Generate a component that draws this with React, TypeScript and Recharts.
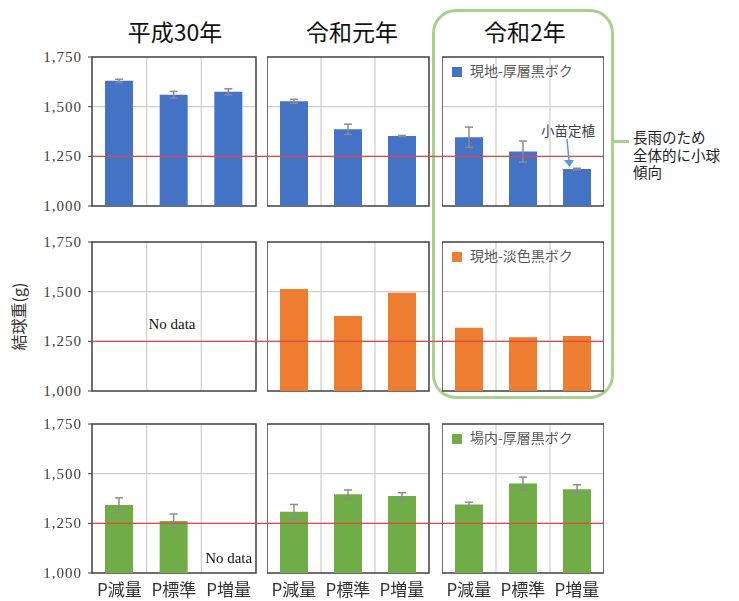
import React from 'react';
import {
  BarChart, Bar, XAxis, YAxis, CartesianGrid, ReferenceLine, ReferenceArea,
  ErrorBar, Legend, LabelList,
} from 'recharts';

const treatments = ['P減量', 'P標準', 'P増量'];
const years = ['平成30年', '令和元年', '令和2年'];
const yTicks = [1000, 1250, 1500, 1750];
const gridValues = [1250, 1500];
const baseline = 1250;

// 現地-厚層黒ボク
const thickH30 = [1630, 1560, 1575];
const thickH30Err = [8, 17, 15];
const thickR1 = [1527, 1386, 1352];
const thickR1Err = [10, 26, 3];
const thickR2 = [1346, 1274, 1186];
const thickR2Err = [51, 53, 4];
const thickR2Notes = ['', '', '小苗定植'];

// 現地-淡色黒ボク (H30 no data)
const lightH30 = [null, null, null];
const lightR1 = [1513, 1378, 1495];
const lightR2 = [1318, 1271, 1277];

// 場内-厚層黒ボク (H30 P増量 no data)
const fieldH30 = [1342, 1262, null];
const fieldH30Err = [36, 35, null];
const fieldR1 = [1308, 1396, 1387];
const fieldR1Err = [37, 22, 17];
const fieldR2 = [1345, 1450, 1422];
const fieldR2Err = [11, 33, 22];

const series = [
  { name: '現地-厚層黒ボク', color: '#4472c4', values: [thickH30, thickR1, thickR2], errs: [thickH30Err, thickR1Err, thickR2Err], notes: [null, null, thickR2Notes] },
  { name: '現地-淡色黒ボク', color: '#ed7d31', values: [lightH30, lightR1, lightR2], errs: [null, null, null], notes: [null, null, null] },
  { name: '場内-厚層黒ボク', color: '#70ad47', values: [fieldH30, fieldR1, fieldR2], errs: [fieldH30Err, fieldR1Err, fieldR2Err], notes: [null, null, null] },
];

const CJK = '"Noto Sans CJK JP", "Noto Sans", sans-serif';
const SERIF = '"Liberation Serif", "DejaVu Serif", serif';

const colLeft = [92, 267, 442];
const colWidth = [164, 162, 162];
const gapRight = [11, 13, 0];
const rowTop = [57, 242, 424];
const plotH = 149;

const fmt = (v: number) => v.toLocaleString('en-US');

const thirds = ({ offset }: any) => [
  offset.left + offset.width / 3,
  offset.left + (offset.width * 2) / 3,
];

const YTick = ({ x, y, payload }: any) => (
  <text x={x} y={y} dy={5} textAnchor="end"
    style={{ fontFamily: SERIF, fontSize: 15, fill: '#404040', letterSpacing: 1 }}>
    {fmt(payload.value)}
  </text>
);

const renderNote = (props: any) => {
  const { x, y, width, value } = props;
  if (!value) return null;
  const cx = x + width / 2 - 9;
  return (
    <g>
      <text x={cx} y={y - 33} textAnchor="middle" fontSize={13.5} fill="#404040" fontFamily={CJK}>{value}</text>
      <line x1={cx - 1} y1={y - 30} x2={cx + 1} y2={y - 8} stroke="#5b9bd5" strokeWidth={1.5} />
      <path d={`M${cx - 4},${y - 9} L${cx + 6},${y - 9} L${cx + 1.5},${y - 2} Z`} fill="#5b9bd5" />
    </g>
  );
};

const noDataStyle = { fontSize: 15, fill: '#111', fontFamily: SERIF };

function Panel({ r, c }: { r: number; c: number }) {
  const s = series[r];
  const errs = s.errs[c];
  const notes = s.notes[c];
  const data = treatments.map((t, i) => ({
    name: t,
    value: s.values[c][i],
    err: errs ? errs[i] : null,
    note: notes ? notes[i] : '',
  }));
  const first = c === 0;
  const last = r === 2;
  const yw = first ? 92 : 0;
  const left = first ? 0 : colLeft[c];
  const ext = gapRight[c];
  const width = yw + colWidth[c] + ext;
  const height = 10 + plotH + (last ? 30 : 10);
  const noData = s.values[c].every((v) => v === null);

  return (
    <div style={{ position: 'absolute', left, top: rowTop[r] - 10 }}>
      <BarChart width={width} height={height} data={data}
        margin={{ top: 10, right: ext, bottom: last ? 0 : 10, left: 0 }}>
        <CartesianGrid stroke="#cdcdcd" strokeWidth={1.2} horizontalValues={gridValues}
          verticalCoordinatesGenerator={thirds} />
        <XAxis dataKey="name" hide={!last} height={30} axisLine={false} tickLine={false}
          tickSize={0} tickMargin={11} interval={0}
          tick={{ fontSize: 17, fill: '#333', fontFamily: CJK }} />
        <YAxis domain={[1000, 1750]} ticks={yTicks} hide={!first} width={92} allowDataOverflow
          axisLine={false} tickSize={4} tickMargin={6}
          tickLine={{ stroke: '#404040' }} tick={<YTick />}
          label={first && r === 1 ? {
            value: '結球重(g)', angle: -90, position: 'insideLeft', offset: 19,
            style: { textAnchor: 'middle', fontSize: 16, fill: '#333', fontFamily: CJK },
          } : undefined} />
        <ReferenceArea y1={1000} y2={1750} fill="none" stroke="#404040" strokeWidth={1.5}
          label={noData ? { value: 'No data', position: 'center', dy: 7, dx: -2, style: noDataStyle } : undefined} />
        {last && first && (
          <ReferenceLine x="P増量" stroke="none"
            label={{ value: 'No data', position: 'insideBottom', offset: 10, style: noDataStyle }} />
        )}
        <Bar dataKey="value" name={s.name} fill={s.color} barSize={28} isAnimationActive={false}>
          {errs && (
            <ErrorBar dataKey="err" width={4} stroke="#8c8c8c" strokeWidth={1.5} direction="y" />
          )}
          {notes && <LabelList dataKey="note" content={renderNote} />}
        </Bar>
        <ReferenceLine y={baseline} stroke="#e04848" strokeWidth={1.3}
          shape={(p: any) => (
            <line x1={p.x1} y1={p.y1} x2={p.x2 + ext} y2={p.y2} stroke="#e04848" strokeWidth={1.3} />
          )} />
        {c === 2 && (
          <Legend layout="horizontal" verticalAlign="middle" align="center"
            iconType="square" iconSize={10}
            wrapperStyle={{ top: 15, left: 10, width: 'auto', fontSize: 14, lineHeight: '16px', fontFamily: CJK }}
            formatter={(v: string) => <span style={{ color: '#595959', paddingLeft: 4 }}>{v}</span>} />
        )}
      </BarChart>
    </div>
  );
}

const titleCenters = [175, 352, 525];

export default function App() {
  return (
    <div style={{ position: 'fixed', left: 0, top: 0, width: 739, height: 601, background: '#fff', fontFamily: CJK }}>
      {years.map((y, i) => (
        <div key={y} style={{ position: 'absolute', left: titleCenters[i] - 70, width: 140, top: 19, textAlign: 'center', fontSize: 23, lineHeight: '24px', color: '#111' }}>
          {y}
        </div>
      ))}
      <div style={{ position: 'absolute', left: 432, top: 9, width: 182, height: 390, boxSizing: 'border-box', border: '3.5px solid #a9d18e', borderRadius: 24 }} />
      <div style={{ position: 'absolute', left: 613, top: 140, width: 16, height: 3, background: '#a9d18e' }} />
      <div style={{ position: 'absolute', left: 633, top: 128, fontSize: 14.5, lineHeight: '17.5px', color: '#222', whiteSpace: 'pre' }}>
        {'長雨のため\n全体的に小球\n傾向'}
      </div>
      {[0, 1, 2].map((r) => [0, 1, 2].map((c) => <Panel key={`${r}-${c}`} r={r} c={c} />))}
    </div>
  );
}
